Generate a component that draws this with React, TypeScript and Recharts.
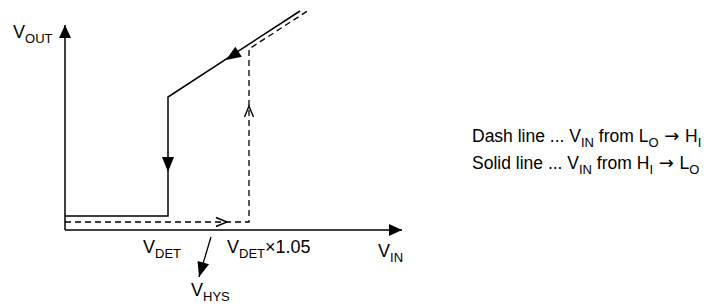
import React from "react";
import { ComposedChart, Line, Scatter, XAxis, YAxis } from "recharts";

// schematic units: V_IN on x, V_OUT on y
const solidPath = [
  { x: 0, y: 1.4 },
  { x: 10.3, y: 1.4 },
  { x: 10.3, y: 13.3 },
  { x: 23.5, y: 21.9 },
];

const dashPath = [
  { x: 0, y: 0.8 },
  { x: 18.4, y: 0.8 },
  { x: 18.4, y: 18.1 },
  { x: 24.4, y: 22.0 },
];

const xAxisPath = [
  { x: 0, y: 0 },
  { x: 33.7, y: 0 },
];
const yAxisPath = [
  { x: 0, y: 0 },
  { x: 0, y: 20.5 },
];
const hysPointer = [
  { x: 14.6, y: -0.7 },
  { x: 13.4, y: -4.7 },
];

// arrow tips and the direction they point (dx, dy)
const filledArrows = [
  { x: 0, y: 20.5, dx: 0, dy: 1, kind: "axis" },
  { x: 33.7, y: 0, dx: 1, dy: 0, kind: "axis" },
  { x: 16.1, y: 17.0, dx: -1, dy: -0.65, kind: "line" },
  { x: 10.3, y: 5.8, dx: 0, dy: -1, kind: "line" },
  { x: 13.4, y: -4.7, dx: -1.2, dy: -4, kind: "line" },
];
const openArrows = [
  { x: 16.2, y: 0.8, dx: 1, dy: 0 },
  { x: 18.4, y: 12.4, dx: 0, dy: 1 },
];

const axisLabels = [
  { x: -5.2, y: 19.2, main: "V", sub: "OUT", tail: "" },
  { x: 7.8, y: -2.3, main: "V", sub: "DET", tail: "" },
  { x: 16.2, y: -2.3, main: "V", sub: "DET", tail: "\u00d71.05" },
  { x: 31.3, y: -2.7, main: "V", sub: "IN", tail: "" },
  { x: 12.6, y: -6.6, main: "V", sub: "HYS", tail: "" },
];

const FONT = "'Liberation Sans', Arial, sans-serif";

const angleOf = (dx: number, dy: number) => (Math.atan2(-dy, dx) * 180) / Math.PI;

const FilledHead = (props: any) => {
  const { cx, cy, payload } = props;
  const len = payload.kind === "axis" ? 13 : 15;
  const w = 6;
  return (
    <polygon
      points={`0,0 ${-len},${-w} ${-len},${w}`}
      fill="#000"
      transform={`translate(${cx},${cy}) rotate(${angleOf(payload.dx, payload.dy)})`}
    />
  );
};

const OpenHead = (props: any) => {
  const { cx, cy, payload } = props;
  return (
    <polyline
      points="-11,-4.5 0,0 -11,4.5"
      fill="none"
      stroke="#000"
      strokeWidth={1.4}
      transform={`translate(${cx},${cy}) rotate(${angleOf(payload.dx, payload.dy)})`}
    />
  );
};

const LabelText = (props: any) => {
  const { cx, cy, payload } = props;
  return (
    <text x={cx} y={cy} fontFamily={FONT} fontSize={18} fill="#000">
      {payload.main}
      <tspan fontSize={13} dy={5}>
        {payload.sub}
      </tspan>
      {payload.tail && (
        <tspan fontSize={18} dy={-5}>
          {payload.tail}
        </tspan>
      )}
    </text>
  );
};

const Sub = ({ children }: { children: React.ReactNode }) => (
  <span style={{ fontSize: 13, position: "relative", top: 5 }}>{children}</span>
);

const Arrow = () => (
  <span style={{ fontFamily: "'DejaVu Sans', sans-serif", fontSize: 18 }}>{" \u2192 "}</span>
);

export default function App() {
  return (
    <div style={{ position: "absolute", left: 0, top: 0, width: 713, height: 307, background: "#fff" }}>
      <ComposedChart width={713} height={307} margin={{ top: 10, right: 293, bottom: 7, left: 0 }}>
        <XAxis type="number" dataKey="x" domain={[-6.5, 35.5]} hide />
        <YAxis type="number" dataKey="y" domain={[-7, 22]} hide />
        <Line data={xAxisPath} dataKey="y" stroke="#000" strokeWidth={1.5} dot={false} isAnimationActive={false} />
        <Line data={yAxisPath} dataKey="y" stroke="#000" strokeWidth={1.5} dot={false} isAnimationActive={false} />
        <Line data={hysPointer} dataKey="y" stroke="#000" strokeWidth={1.3} dot={false} isAnimationActive={false} />
        <Line
          data={dashPath}
          dataKey="y"
          stroke="#000"
          strokeWidth={1.3}
          strokeDasharray="6 4"
          dot={false}
          isAnimationActive={false}
        />
        <Line data={solidPath} dataKey="y" stroke="#000" strokeWidth={1.5} dot={false} isAnimationActive={false} />
        <Scatter data={filledArrows} dataKey="y" shape={FilledHead} isAnimationActive={false} />
        <Scatter data={openArrows} dataKey="y" shape={OpenHead} isAnimationActive={false} />
        <Scatter data={axisLabels} dataKey="y" shape={LabelText} isAnimationActive={false} />
      </ComposedChart>
      <div
        style={{
          position: "absolute",
          left: 472,
          top: 123,
          fontFamily: FONT,
          fontSize: 17.5,
          lineHeight: "25px",
          color: "#000",
          whiteSpace: "nowrap",
        }}
      >
        <div>
          Dash line ... V<Sub>IN</Sub> from L<Sub>O</Sub>
          <Arrow />H<Sub>I</Sub>
        </div>
        <div>
          Solid line ... V<Sub>IN</Sub> from H<Sub>I</Sub>
          <Arrow />L<Sub>O</Sub>
        </div>
      </div>
    </div>
  );
}
